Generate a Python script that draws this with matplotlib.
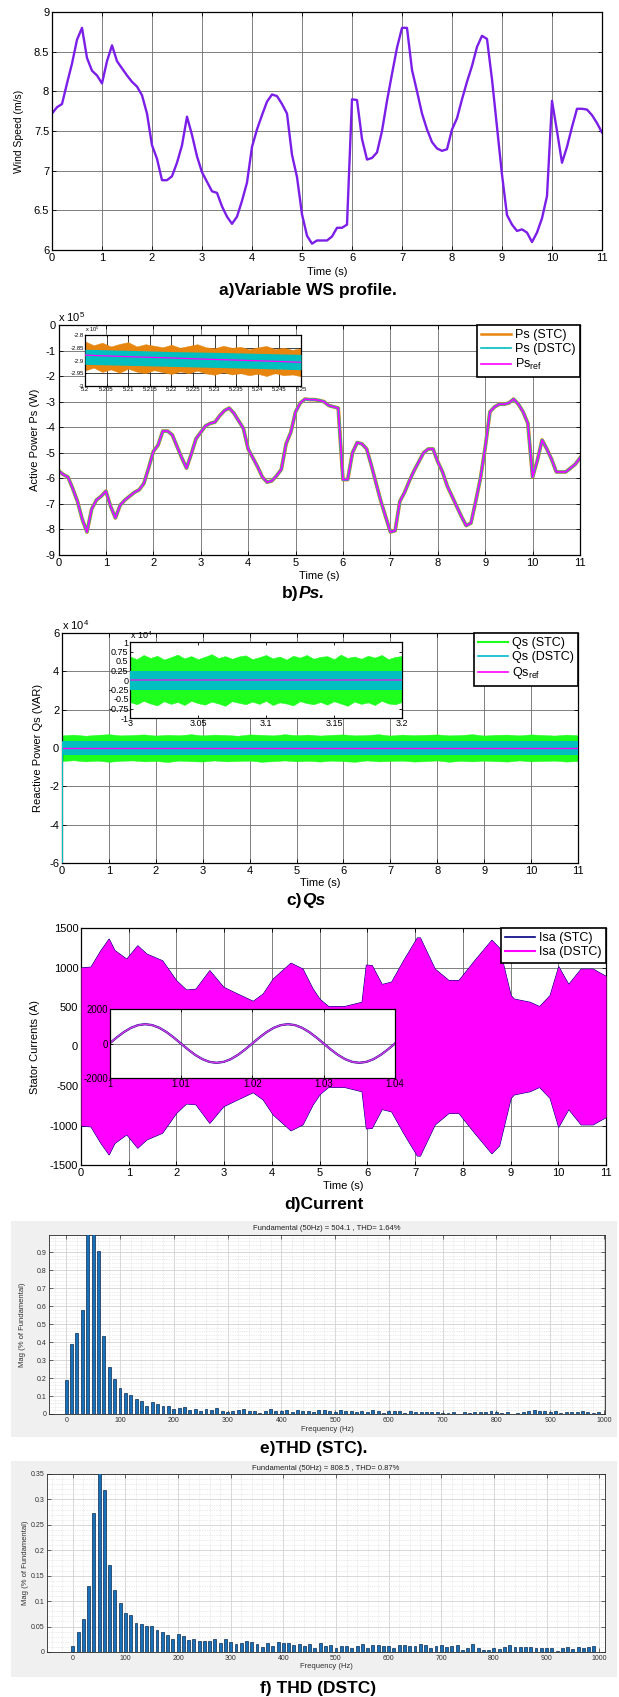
import numpy as np
import matplotlib
matplotlib.use("Agg")
import matplotlib.pyplot as plt
from matplotlib.patches import Rectangle
from matplotlib.lines import Line2D
from matplotlib.ticker import FixedLocator, MultipleLocator

plt.rcParams['font.family'] = ['Liberation Sans', 'DejaVu Sans']
plt.rcParams['mathtext.fontset'] = 'custom'
plt.rcParams['mathtext.rm'] = 'Liberation Sans'
plt.rcParams['mathtext.it'] = 'Liberation Sans:italic'
plt.rcParams['mathtext.bf'] = 'Liberation Sans:bold'

# ---------------- DATA ----------------
# a) wind speed profile (m/s), sampled every 0.1 s
ws_t = np.round(np.arange(0, 111) * 0.1, 1)
ws_v = [7.72, 7.80, 7.84, 8.10, 8.35, 8.65, 8.80, 8.42, 8.26, 8.20,
        8.10, 8.38, 8.58, 8.38, 8.29, 8.20, 8.12, 8.06, 7.95, 7.72,
        7.32, 7.15, 6.88, 6.88, 6.93, 7.10, 7.32, 7.68, 7.45, 7.18,
        6.98, 6.86, 6.74, 6.72, 6.55, 6.42, 6.33, 6.42, 6.62, 6.85,
        7.30, 7.52, 7.70, 7.87, 7.96, 7.94, 7.84, 7.72, 7.20, 6.92,
        6.45, 6.18, 6.08, 6.12, 6.12, 6.12, 6.17, 6.28, 6.28, 6.32,
        7.90, 7.89, 7.40, 7.14, 7.16, 7.23, 7.50, 7.88, 8.22, 8.55,
        8.80, 8.80, 8.27, 8.00, 7.72, 7.52, 7.36, 7.28, 7.25, 7.27,
        7.52, 7.66, 7.90, 8.12, 8.32, 8.56, 8.70, 8.66, 8.15, 7.55,
        6.95, 6.44, 6.32, 6.24, 6.26, 6.22, 6.10, 6.22, 6.40, 6.68,
        7.88, 7.50, 7.10, 7.30, 7.55, 7.78, 7.78, 7.77, 7.70, 7.60,
        7.48]

# b) active power Ps (x 1e5 W), sampled every 0.1 s
ps_t = ws_t
ps_v = [-5.70, -5.85, -5.95, -6.40, -6.90, -7.60, -8.10, -7.20, -6.85, -6.70,
        -6.50, -7.10, -7.55, -7.05, -6.85, -6.70, -6.55, -6.45, -6.20, -5.60,
        -4.95, -4.70, -4.15, -4.15, -4.30, -4.75, -5.20, -5.60, -5.05, -4.45,
        -4.20, -3.95, -3.85, -3.80, -3.55, -3.35, -3.25, -3.45, -3.75, -4.05,
        -4.85, -5.20, -5.55, -5.95, -6.15, -6.10, -5.90, -5.65, -4.65, -4.20,
        -3.40, -3.05, -2.90, -2.92, -2.92, -2.95, -3.00, -3.15, -3.20, -3.25,
        -6.05, -6.05, -5.00, -4.60, -4.65, -4.85, -5.50, -6.20, -6.90, -7.50,
        -8.10, -8.05, -6.90, -6.55, -6.10, -5.70, -5.35, -5.00, -4.85, -4.85,
        -5.35, -5.75, -6.30, -6.70, -7.10, -7.50, -7.85, -7.75, -6.90, -6.00,
        -4.80, -3.40, -3.20, -3.10, -3.10, -3.05, -2.90, -3.10, -3.40, -3.85,
        -5.95, -5.30, -4.50, -4.85, -5.25, -5.75, -5.75, -5.75, -5.60, -5.45,
        -5.20]
ps_start = [0.0, -5.70]          # start-up transient at t = 0

# b) inset (5.2 .. 5.25 s), band edges (x 1e5 W)
pin_t = np.linspace(5.2, 5.25, 26)
pin_stc_hi = [-2.825, -2.840, -2.830, -2.845, -2.835, -2.828, -2.845, -2.836, -2.842, -2.848,
              -2.838, -2.850, -2.843, -2.836, -2.848, -2.852, -2.842, -2.850, -2.846, -2.856,
              -2.848, -2.843, -2.855, -2.850, -2.858, -2.852]
pin_stc_lo = [-2.940, -2.928, -2.945, -2.935, -2.948, -2.932, -2.944, -2.950, -2.938, -2.946,
              -2.953, -2.943, -2.950, -2.940, -2.951, -2.956, -2.946, -2.955, -2.950, -2.958,
              -2.952, -2.961, -2.950, -2.958, -2.955, -2.962]
pin_t6 = [5.20, 5.21, 5.22, 5.23, 5.24, 5.25]
pin_dstc_hi = [-2.856, -2.860, -2.865, -2.868, -2.872, -2.876]
pin_dstc_lo = [-2.915, -2.919, -2.923, -2.927, -2.931, -2.936]
pin_ref = [-2.879, -2.885, -2.890, -2.896, -2.901, -2.907]

# c) reactive power Qs (x 1e4 VAR), band edges every 0.25 s
qs_t = np.arange(0, 45) * 0.25
qs_stc_hi = [0.66, 0.70, 0.64, 0.69, 0.72, 0.66, 0.68, 0.71, 0.65, 0.69, 0.67, 0.72, 0.66,
             0.70, 0.68, 0.64, 0.71, 0.69, 0.66, 0.72, 0.67, 0.70, 0.65, 0.69, 0.71, 0.66,
             0.68, 0.72, 0.65, 0.70, 0.67, 0.69, 0.71, 0.66, 0.68, 0.72, 0.65, 0.69, 0.70,
             0.66, 0.71, 0.68, 0.65, 0.70, 0.67]
qs_stc_lo = [-0.68, -0.64, -0.70, -0.66, -0.72, -0.67, -0.65, -0.70, -0.68, -0.73, -0.66,
             -0.69, -0.71, -0.65, -0.70, -0.68, -0.66, -0.72, -0.69, -0.65, -0.70, -0.67,
             -0.71, -0.66, -0.69, -0.72, -0.65, -0.70, -0.68, -0.66, -0.71, -0.69, -0.65,
             -0.72, -0.67, -0.70, -0.66, -0.69, -0.71, -0.65, -0.70, -0.68, -0.66, -0.71,
             -0.68]
qs_dstc_amp = 0.36
qs_start = [0.0, -6.0]           # start-up transient at t = 0

# c) inset (3 .. 3.2 s), band edges (x 1e4 VAR)
qin_t = np.linspace(3.0, 3.2, 41)
qin_stc_hi = [0.62, 0.55, 0.66, 0.58, 0.64, 0.54, 0.60, 0.67, 0.57, 0.63, 0.55, 0.61, 0.68,
              0.58, 0.63, 0.56, 0.62, 0.65, 0.55, 0.60, 0.66, 0.57, 0.62, 0.54, 0.64, 0.59,
              0.66, 0.56, 0.61, 0.63, 0.55, 0.67, 0.58, 0.62, 0.56, 0.64, 0.59, 0.66, 0.55,
              0.61, 0.63]
qin_stc_lo = [-0.58, -0.64, -0.55, -0.62, -0.67, -0.56, -0.63, -0.58, -0.66, -0.55, -0.61,
              -0.65, -0.57, -0.62, -0.68, -0.56, -0.60, -0.64, -0.57, -0.63, -0.55, -0.66,
              -0.59, -0.62, -0.67, -0.56, -0.61, -0.64, -0.58, -0.65, -0.56, -0.62, -0.68,
              -0.57, -0.63, -0.59, -0.66, -0.55, -0.62, -0.64, -0.58]
qin_dstc_amp = 0.25

# d) stator current envelope (A)
cur_t = [0.0, 0.2, 0.41, 0.58, 0.7, 0.95, 1.18, 1.37, 1.7, 1.99, 2.2, 2.4, 2.69, 2.98,
         3.27, 3.6, 3.81, 4.02, 4.39, 4.64, 4.85, 5.0, 5.18, 5.51, 5.88, 5.97, 6.09, 6.3,
         6.5, 6.75, 7.04, 7.1, 7.41, 7.7, 7.91, 8.24, 8.6, 8.76, 8.9, 9.0, 9.07, 9.4, 9.6,
         9.82, 10.0, 10.21, 10.47, 10.72, 11.0]
cur_env = [1000, 1010, 1220, 1365, 1220, 1110, 1280, 1175, 1090, 840, 720, 730, 965, 755,
           670, 577, 670, 860, 1060, 985, 735, 600, 510, 510, 565, 1035, 1030, 790,
           820, 1090, 1380, 1380, 985, 840, 840, 1090, 1350, 1250, 900, 650, 605, 565, 510,
           650, 1015, 790, 985, 985, 890]

# d) inset (1 .. 1.04 s), stator current samples every 1 ms (A)
iin_t = np.linspace(1.0, 1.04, 41)
iin_v = [0, 346, 658, 906, 1065, 1120, 1065, 906, 658, 346,
         0, -346, -658, -906, -1065, -1120, -1065, -906, -658, -346,
         0, 346, 658, 906, 1065, 1120, 1065, 906, 658, 346,
         0, -346, -658, -906, -1065, -1120, -1065, -906, -658, -346, 0]

# e) / f) harmonic spectra, 0 .. 990 Hz in 10 Hz steps (% of fundamental)
freq = np.arange(0, 1000, 10)
thd_stc = [0.19, 0.39, 0.45, 0.58, 1.30, 100.0, 0.905, 0.435, 0.26, 0.195,
           0.145, 0.115, 0.103, 0.083, 0.074, 0.046, 0.065, 0.054, 0.044, 0.043,
           0.030, 0.033, 0.039, 0.024, 0.028, 0.017, 0.028, 0.022, 0.033, 0.015,
           0.012, 0.018, 0.023, 0.027, 0.019, 0.018, 0.006, 0.015, 0.028, 0.018,
           0.018, 0.022, 0.012, 0.022, 0.017, 0.016, 0.009, 0.022, 0.023, 0.018,
           0.012, 0.022, 0.016, 0.016, 0.013, 0.017, 0.010, 0.022, 0.017, 0.006,
           0.014, 0.014, 0.016, 0.005, 0.017, 0.009, 0.009, 0.013, 0.009, 0.009,
           0.006, 0.004, 0.009, 0.000, 0.012, 0.005, 0.009, 0.010, 0.013, 0.016,
           0.009, 0.005, 0.010, 0.000, 0.005, 0.010, 0.014, 0.022, 0.019, 0.018,
           0.011, 0.017, 0.004, 0.013, 0.013, 0.013, 0.019, 0.011, 0.005, 0.010]
thd_dstc = [0.0125, 0.039, 0.065, 0.130, 0.274, 100.0, 0.319, 0.172, 0.121, 0.096,
            0.077, 0.073, 0.058, 0.055, 0.051, 0.051, 0.043, 0.039, 0.033, 0.026,
            0.035, 0.031, 0.024, 0.026, 0.022, 0.022, 0.021, 0.026, 0.018, 0.026,
            0.020, 0.016, 0.018, 0.022, 0.020, 0.016, 0.009, 0.018, 0.011, 0.020,
            0.018, 0.018, 0.014, 0.016, 0.011, 0.016, 0.008, 0.018, 0.011, 0.014,
            0.008, 0.012, 0.012, 0.007, 0.011, 0.015, 0.007, 0.014, 0.014, 0.012,
            0.012, 0.007, 0.013, 0.013, 0.012, 0.012, 0.015, 0.014, 0.008, 0.011,
            0.014, 0.009, 0.011, 0.013, 0.004, 0.007, 0.016, 0.007, 0.004, 0.003,
            0.008, 0.005, 0.010, 0.013, 0.010, 0.010, 0.009, 0.009, 0.008, 0.008,
            0.007, 0.007, 0.002, 0.008, 0.009, 0.006, 0.009, 0.007, 0.009, 0.012]

titles = ["a)Variable WS profile.", "b)", "Ps.", "c)", "Qs", "d)Current",
          "e)THD (STC).", "f) THD (DSTC)"]

# ---------------- FIGURE ----------------
W, H = 619, 1697
fig = plt.figure(figsize=(W / 100, H / 100), dpi=100)
fig.patch.set_facecolor('white')
CAPFAM = ['Liberation Sans', 'DejaVu Sans']


def rect(l, r, t, b):
    return [l / W, 1 - b / H, (r - l) / W, (b - t) / H]


def mat_axes(ax, fs=8, gridc='#6a6a6a'):
    ax.tick_params(direction='in', top=True, right=True, labelsize=fs,
                   length=3, width=0.6, pad=2, colors='black')
    for s in ax.spines.values():
        s.set_linewidth(0.9)
        s.set_color('black')
    ax.grid(True, color=gridc, lw=0.6)
    ax.set_axisbelow(True)


def caption(xc, yc, parts, size=12.5):
    r = fig.canvas.get_renderer()
    txts = []
    for s, st in parts:
        t = fig.text(0, 1 - yc / H, s, fontsize=size, fontweight='bold',
                     fontstyle=st, va='center', ha='left', family=CAPFAM)
        txts.append(t)
    ws = [t.get_window_extent(r).width for t in txts]
    x = xc - sum(ws) / 2
    for t, w in zip(txts, ws):
        t.set_x(x / W)
        x += w


def leg(ax, handles, labels, fs=9):
    lg = ax.legend(handles, labels, loc='upper right', borderaxespad=0.0,
                   fancybox=False, framealpha=1.0, edgecolor='black',
                   fontsize=fs, handlelength=2.4, handletextpad=0.3,
                   labelspacing=0.15, borderpad=0.35)
    lg.get_frame().set_linewidth(1.2)
    lg.set_zorder(20)
    return lg


xt11 = list(range(0, 12))
ORANGE = '#E8850E'
CYAN = '#00BFBF'
MAG = '#FF00FF'
GREEN = '#1EFF1E'

# ---- a) wind speed ----
axa = fig.add_axes(rect(52, 602, 12, 250))
axa.plot(ws_t, ws_v, color='#7B1FE8', lw=1.7)
axa.set_xlim(0, 11)
axa.set_ylim(6, 9)
axa.xaxis.set_major_locator(FixedLocator(xt11))
yt = [6, 6.5, 7, 7.5, 8, 8.5, 9]
axa.yaxis.set_major_locator(FixedLocator(yt))
axa.set_yticklabels(['%g' % v for v in yt])
mat_axes(axa)
axa.set_ylabel('Wind Speed (m/s)', fontsize=7.5)
axa.yaxis.set_label_coords(-0.051, 0.5)
axa.set_xlabel('Time (s)', fontsize=8)
axa.xaxis.set_label_coords(0.5, -0.07)
caption(308, 290, [(titles[0], 'normal')])

# ---- b) Ps ----
axb = fig.add_axes(rect(58.5, 580, 325, 555))
axb.plot([0, 0], ps_start, color=CYAN, lw=1.2)
axb.plot(ps_t, ps_v, color=ORANGE, lw=2.7)
axb.plot(ps_t, ps_v, color=CYAN, lw=2.0)
axb.plot(ps_t, ps_v, color=MAG, lw=1.2)
axb.set_xlim(0, 11)
axb.set_ylim(-9, 0)
axb.xaxis.set_major_locator(FixedLocator(xt11))
ytb = list(range(-9, 1))
axb.yaxis.set_major_locator(FixedLocator(ytb))
axb.set_yticklabels(['%d' % v for v in ytb])
mat_axes(axb)
axb.set_ylabel('Active Power Ps (W)', fontsize=8)
axb.yaxis.set_label_coords(-0.036, 0.5)
axb.set_xlabel('Time (s)', fontsize=8)
axb.xaxis.set_label_coords(0.5, -0.07)
axb.text(0.0, 1.005, r'x 10$^5$', transform=axb.transAxes, fontsize=8,
         ha='left', va='bottom')
leg(axb, [Line2D([], [], color=ORANGE, lw=1.8), Line2D([], [], color=CYAN, lw=1.2),
          Line2D([], [], color=MAG, lw=1.2)],
    ['Ps (STC)', 'Ps (DSTC)', r'Ps$_{\mathrm{ref}}$'])

axbi = fig.add_axes(rect(85, 301, 335, 386))
axbi.fill_between(pin_t, pin_stc_lo, pin_stc_hi, color=ORANGE, lw=0.3, zorder=2)
axbi.fill_between(pin_t6, pin_dstc_lo, pin_dstc_hi, color=CYAN, lw=0, zorder=3)
axbi.plot(pin_t6, pin_ref, color=MAG, lw=0.9, zorder=4)
axbi.set_xlim(5.2, 5.25)
axbi.set_ylim(-3, -2.8)
xtbi = [5.2, 5.205, 5.21, 5.215, 5.22, 5.225, 5.23, 5.235, 5.24, 5.245, 5.25]
axbi.xaxis.set_major_locator(FixedLocator(xtbi))
axbi.set_xticklabels(['%g' % v for v in xtbi])
ytbi = [-3, -2.95, -2.9, -2.85, -2.8]
axbi.yaxis.set_major_locator(FixedLocator(ytbi))
axbi.set_yticklabels(['%g' % v for v in ytbi])
mat_axes(axbi, fs=4.2, gridc='#202020')
axbi.tick_params(length=1.5, pad=1)
axbi.text(0.0, 1.01, r'x 10$^5$', transform=axbi.transAxes, fontsize=4,
          ha='left', va='bottom')
axbi.set_zorder(15)
caption(303, 593, [(titles[1], 'normal'), (titles[2], 'italic')])

# ---- c) Qs ----
axc = fig.add_axes(rect(62, 578, 633, 863))
axc.fill_between(qs_t, qs_stc_lo, qs_stc_hi, color=GREEN, lw=0.3, zorder=2)
axc.fill_between([0, 11], [-qs_dstc_amp] * 2, [qs_dstc_amp] * 2, color=CYAN,
                 lw=0, zorder=3)
axc.plot([0, 11], [0, 0], color=MAG, lw=1.0, zorder=4)
axc.plot([0, 0], qs_start, color=CYAN, lw=1.4, zorder=4)
axc.set_xlim(0, 11)
axc.set_ylim(-6, 6)
axc.xaxis.set_major_locator(FixedLocator(xt11))
ytc = [-6, -4, -2, 0, 2, 4, 6]
axc.yaxis.set_major_locator(FixedLocator(ytc))
axc.set_yticklabels(['%d' % v for v in ytc])
mat_axes(axc)
axc.set_ylabel('Reactive Power Qs (VAR)', fontsize=8)
axc.yaxis.set_label_coords(-0.037, 0.5)
axc.set_xlabel('Time (s)', fontsize=8)
axc.xaxis.set_label_coords(0.5, -0.065)
axc.text(0.0, 1.005, r'x 10$^4$', transform=axc.transAxes, fontsize=8,
         ha='left', va='bottom')
leg(axc, [Line2D([], [], color=GREEN, lw=1.5), Line2D([], [], color='#00B8D0', lw=1.2),
          Line2D([], [], color=MAG, lw=1.2)],
    ['Qs (STC)', 'Qs (DSTC)', r'Qs$_{\mathrm{ref}}$'])

axci = fig.add_axes(rect(130, 402, 642, 718))
axci.fill_between(qin_t, qin_stc_lo, qin_stc_hi, color=GREEN, lw=0.3, zorder=2)
axci.fill_between([3.0, 3.2], [-qin_dstc_amp] * 2, [qin_dstc_amp] * 2, color=CYAN,
                  lw=0, zorder=3)
axci.plot([3.0, 3.2], [0, 0], color='#B040E0', lw=1.2, zorder=4)
axci.set_xlim(3.0, 3.2)
axci.set_ylim(-1, 1)
xtci = [3.0, 3.05, 3.1, 3.15, 3.2]
axci.xaxis.set_major_locator(FixedLocator(xtci))
axci.set_xticklabels(['%g' % v for v in xtci])
ytci = [-1, -0.75, -0.5, -0.25, 0, 0.25, 0.5, 0.75, 1]
axci.yaxis.set_major_locator(FixedLocator(ytci))
axci.set_yticklabels(['%g' % v for v in ytci])
mat_axes(axci, fs=6.5)
axci.grid(False)
axci.tick_params(length=2, pad=1)
axci.text(0.0, 1.01, r'x 10$^4$', transform=axci.transAxes, fontsize=6.5,
          ha='left', va='bottom')
axci.set_zorder(15)
caption(306, 900, [(titles[3], 'normal'), (titles[4], 'italic')])

# ---- d) current ----
NAVY = '#00007F'
axd = fig.add_axes(rect(81, 606, 928, 1165))
env = np.array(cur_env, dtype=float)
axd.fill_between(cur_t, -env, env, color=NAVY, lw=0.8, zorder=2)
axd.fill_between(cur_t, -env, env, color=MAG, lw=0, zorder=3)
axd.set_xlim(0, 11)
axd.set_ylim(-1500, 1500)
axd.xaxis.set_major_locator(FixedLocator(xt11))
ytd = [-1500, -1000, -500, 0, 500, 1000, 1500]
axd.yaxis.set_major_locator(FixedLocator(ytd))
axd.set_yticklabels(['%d' % v for v in ytd])
mat_axes(axd)
axd.set_ylabel('Stator Currents (A)', fontsize=8)
axd.yaxis.set_label_coords(-0.079, 0.5)
axd.set_xlabel('Time (s)', fontsize=8)
axd.xaxis.set_label_coords(0.5, -0.068)
leg(axd, [Line2D([], [], color=NAVY, lw=1.2), Line2D([], [], color=MAG, lw=1.5)],
    ['Isa (STC)', 'Isa (DSTC)'])

axdi = fig.add_axes(rect(109.5, 395, 1009, 1078))
axdi.set_facecolor('white')
axdi.plot(iin_t, iin_v, color=NAVY, lw=1.6)
axdi.plot(iin_t, iin_v, color='#D23CE6', lw=1.1)
axdi.set_xlim(1.0, 1.04)
axdi.set_ylim(-2000, 2000)
xtdi = [1.0, 1.01, 1.02, 1.03, 1.04]
axdi.xaxis.set_major_locator(FixedLocator(xtdi))
axdi.set_xticklabels(['%g' % v for v in xtdi])
ytdi = [-2000, 0, 2000]
axdi.yaxis.set_major_locator(FixedLocator(ytdi))
axdi.set_yticklabels(['%d' % v for v in ytdi])
mat_axes(axdi, fs=7)
axdi.tick_params(length=2, pad=1)
axdi.set_zorder(15)
caption(324, 1205, [(titles[5], 'normal')])


# ---- e) / f) spectra ----
def spectrum(bg, axr, vals, ylim, ymaj, ymin_step, xl, title, ylab_x, xlab_y,
             title_y):
    fig.add_artist(Rectangle((bg[0] / W, 1 - bg[3] / H), (bg[1] - bg[0]) / W,
                             (bg[3] - bg[2]) / H, transform=fig.transFigure,
                             facecolor='#F0F0F0', edgecolor='none', zorder=0))
    ax = fig.add_axes(rect(*axr))
    ax.set_facecolor('white')
    ax.bar(freq, vals, width=5.5, color='#1870B8', edgecolor='#0A2A50', lw=0.5,
           zorder=3)
    ax.set_xlim(*xl)
    ax.set_ylim(*ylim)
    ax.xaxis.set_major_locator(FixedLocator(list(range(0, 1001, 100))))
    ax.xaxis.set_minor_locator(MultipleLocator(20))
    ax.yaxis.set_major_locator(FixedLocator(ymaj))
    ax.set_yticklabels(['%g' % v for v in ymaj])
    ax.yaxis.set_minor_locator(MultipleLocator(ymin_step))
    ax.grid(True, which='major', color='#D2D2D2', lw=0.6)
    ax.grid(True, which='minor', color='#D8D8D8', lw=0.5, ls=(0, (1, 1.5)))
    ax.set_axisbelow(True)
    ax.tick_params(which='both', direction='in', top=True, right=True,
                   labelsize=5, colors='#303030', pad=2)
    ax.tick_params(which='major', length=3, width=0.5)
    ax.tick_params(which='minor', length=0)
    for s in ax.spines.values():
        s.set_linewidth(0.6)
        s.set_color('#262626')
    ax.set_xlabel('Frequency (Hz)', fontsize=5.5, color='#303030')
    ax.xaxis.set_label_coords(0.5, xlab_y)
    ax.set_ylabel('Mag (% of Fundamental)', fontsize=5.5, color='#303030')
    ax.yaxis.set_label_coords(ylab_x, 0.5)
    fig.text((axr[0] + axr[1]) / 2 / W, 1 - title_y / H, title, fontsize=5.5,
             ha='center', va='center', color='#202020')
    return ax


spectrum((11, 617, 1221, 1437), (49, 605, 1235, 1414), thd_stc, (0, 0.996),
         [0, 0.1, 0.2, 0.3, 0.4, 0.5, 0.6, 0.7, 0.8, 0.9], 0.02, (-32, 1002),
         'Fundamental (50Hz) = 504.1 , THD= 1.64%', -0.041, -0.067, 1228)
caption(314, 1449, [(titles[6], 'normal')])

spectrum((11, 617, 1461, 1677), (47, 605, 1474, 1652), thd_dstc, (0, 0.35),
         [0, 0.05, 0.1, 0.15, 0.2, 0.25, 0.3, 0.35], 0.01, (-49, 1011),
         'Fundamental (50Hz) = 808.5 , THD= 0.87%', -0.033, -0.062, 1468)
caption(318, 1688, [(titles[7], 'normal')])

fig.savefig('out.png', dpi=100)
